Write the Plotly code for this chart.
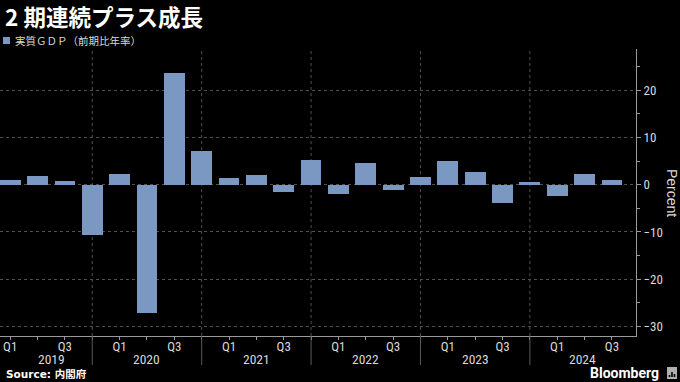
import plotly.graph_objects as go

# ---- data ----
years = ["2019", "2020", "2021", "2022", "2023", "2024"]
quarters = ["Q1", "Q2", "Q3", "Q4"]
gdp_values = [
    1.0, 1.8, 0.8, -10.7,     # 2019
    2.2, -27.1, 23.6, 7.2,    # 2020
    1.5, 2.0, -1.5, 5.3,      # 2021
    -1.9, 4.6, -1.2, 1.7,     # 2022
    5.1, 2.7, -3.8, 0.5,      # 2023
    -2.3, 2.2, 0.9,           # 2024
]
quarter_tick_text = ["Q1", "", "Q3", ""]
y_tick_vals = [-30, -20, -10, 0, 10, 20]

title_text = "2 期連続プラス成長"
legend_text = "実質ＧＤＰ（前期比年率）"
source_text = "Source: 内閣府"
y_title = "Percent"

# ---- derived ----
n = len(gdp_values)
x_idx = list(range(n))
x_range = [-0.373, 22.88]

BG = "#000000"
BAR = "#7B98C2"
GRID = "#505050"
AXIS = "#9a9a9a"
TXT = "#d9d9d9"
NARROW = "Liberation Sans Narrow, Arial Narrow, Roboto Condensed, sans-serif"
CJK = "Noto Sans CJK JP, Noto Sans, sans-serif"

W, H = 680, 382
L, R, T, B = 0, 44, 49, 46
pw, ph = W - L - R, H - T - B
def px(xp):
    return (xp - L) / pw
def py(yp):
    return (H - B - yp) / ph

fig = go.Figure()
fig.add_trace(go.Bar(
    x=x_idx, y=gdp_values, width=0.76,
    marker=dict(color=BAR, line=dict(width=0)),
    showlegend=False, hoverinfo="skip",
))

tickvals = x_idx
ticktext = [quarter_tick_text[i % 4] for i in x_idx]

fig.update_layout(
    width=W, height=H,
    paper_bgcolor=BG, plot_bgcolor=BG,
    margin=dict(l=L, r=R, t=T, b=B),
    bargap=0,
    xaxis=dict(
        range=x_range, tickmode="array", tickvals=tickvals, ticktext=ticktext,
        showgrid=False, zeroline=False, showline=True, linecolor=AXIS, linewidth=1,
        ticks="outside", ticklen=3, tickcolor=AXIS, ticklabelstandoff=-5,
        tickfont=dict(family=NARROW, size=13, color=TXT),
    ),
    yaxis=dict(
        side="right", range=[-32.0, 28.7], tickmode="array", tickvals=y_tick_vals,
        showgrid=True, gridcolor=GRID, griddash="dot", gridwidth=1,
        zeroline=False, showline=True, linecolor=AXIS, linewidth=1,
        ticks="outside", ticklen=4, tickcolor=AXIS,
        minor=dict(dtick=5, tick0=0, ticks="outside", ticklen=3, tickcolor=AXIS, showgrid=False),
        tickfont=dict(family=NARROW, size=13, color=TXT),
    ),
)

shapes = []
annotations = []
# year dividers at each Q4 position
for k in range(len(years)):
    xd = 4 * k + 3
    if x_range[0] <= xd <= x_range[1]:
        shapes.append(dict(type="line", xref="x", yref="paper", x0=xd, x1=xd, y0=0, y1=1,
                           line=dict(color=GRID, width=1, dash="dot"), layer="below"))
        shapes.append(dict(type="line", xref="x", yref="paper", x0=xd, x1=xd, y0=py(365), y1=0,
                           line=dict(color="#5a5a5a", width=1)))
    start = max(4 * k - 1, 0)
    end = min(4 * k + 3, x_range[1])
    annotations.append(dict(text=years[k], xref="x", yref="paper", x=(start + end) / 2, y=py(359),
                            showarrow=False, xanchor="center", yanchor="middle",
                            font=dict(family=NARROW, size=13.5, color=TXT)))

annotations += [
    dict(text="<b>" + title_text + "</b>", xref="paper", yref="paper", x=px(3), y=py(16),
         showarrow=False, xanchor="left", yanchor="middle",
         font=dict(family=CJK, size=22.5, color="#ffffff")),
    dict(text=legend_text, xref="paper", yref="paper", x=px(13), y=py(40.5),
         showarrow=False, xanchor="left", yanchor="middle",
         font=dict(family=CJK, size=10.5, color=TXT)),
    dict(text="<b>" + source_text + "</b>", xref="paper", yref="paper", x=px(4), y=py(374),
         showarrow=False, xanchor="left", yanchor="middle",
         font=dict(family="DejaVu Sans, Noto Sans CJK JP", size=10.5, color="#ffffff")),
    dict(text="<b>Bloomberg</b>", xref="paper", yref="paper", x=px(661), y=py(373),
         showarrow=False, xanchor="right", yanchor="middle",
         font=dict(family="Roboto, Liberation Sans, sans-serif", size=14, color="#ffffff")),
    dict(text=y_title, xref="paper", yref="paper", x=px(672), y=py(193), textangle=90,
         showarrow=False, xanchor="center", yanchor="middle",
         font=dict(family="Liberation Sans, Arial, sans-serif", size=14, color=TXT)),
]

# legend swatch and logo box
shapes.append(dict(type="rect", xref="paper", yref="paper", x0=px(3), x1=px(10), y0=py(44), y1=py(37),
                   fillcolor=BAR, line=dict(width=0)))
shapes.append(dict(type="rect", xref="paper", yref="paper", x0=px(667), x1=px(677), y0=py(379), y1=py(367),
                   fillcolor="#b0b0b0", line=dict(width=0)))
for bx, top in [(669.5, 375), (672, 372), (674.5, 374)]:
    shapes.append(dict(type="rect", xref="paper", yref="paper", x0=px(bx - 0.8), x1=px(bx + 0.8),
                       y0=py(377), y1=py(top), fillcolor="#000000", line=dict(width=0)))

fig.update_layout(shapes=shapes, annotations=annotations)

fig.write_html(
    "out.html",
    config={"displayModeBar": False},
    post_script="document.body.style.margin='0';document.body.style.background='#000';",
)
